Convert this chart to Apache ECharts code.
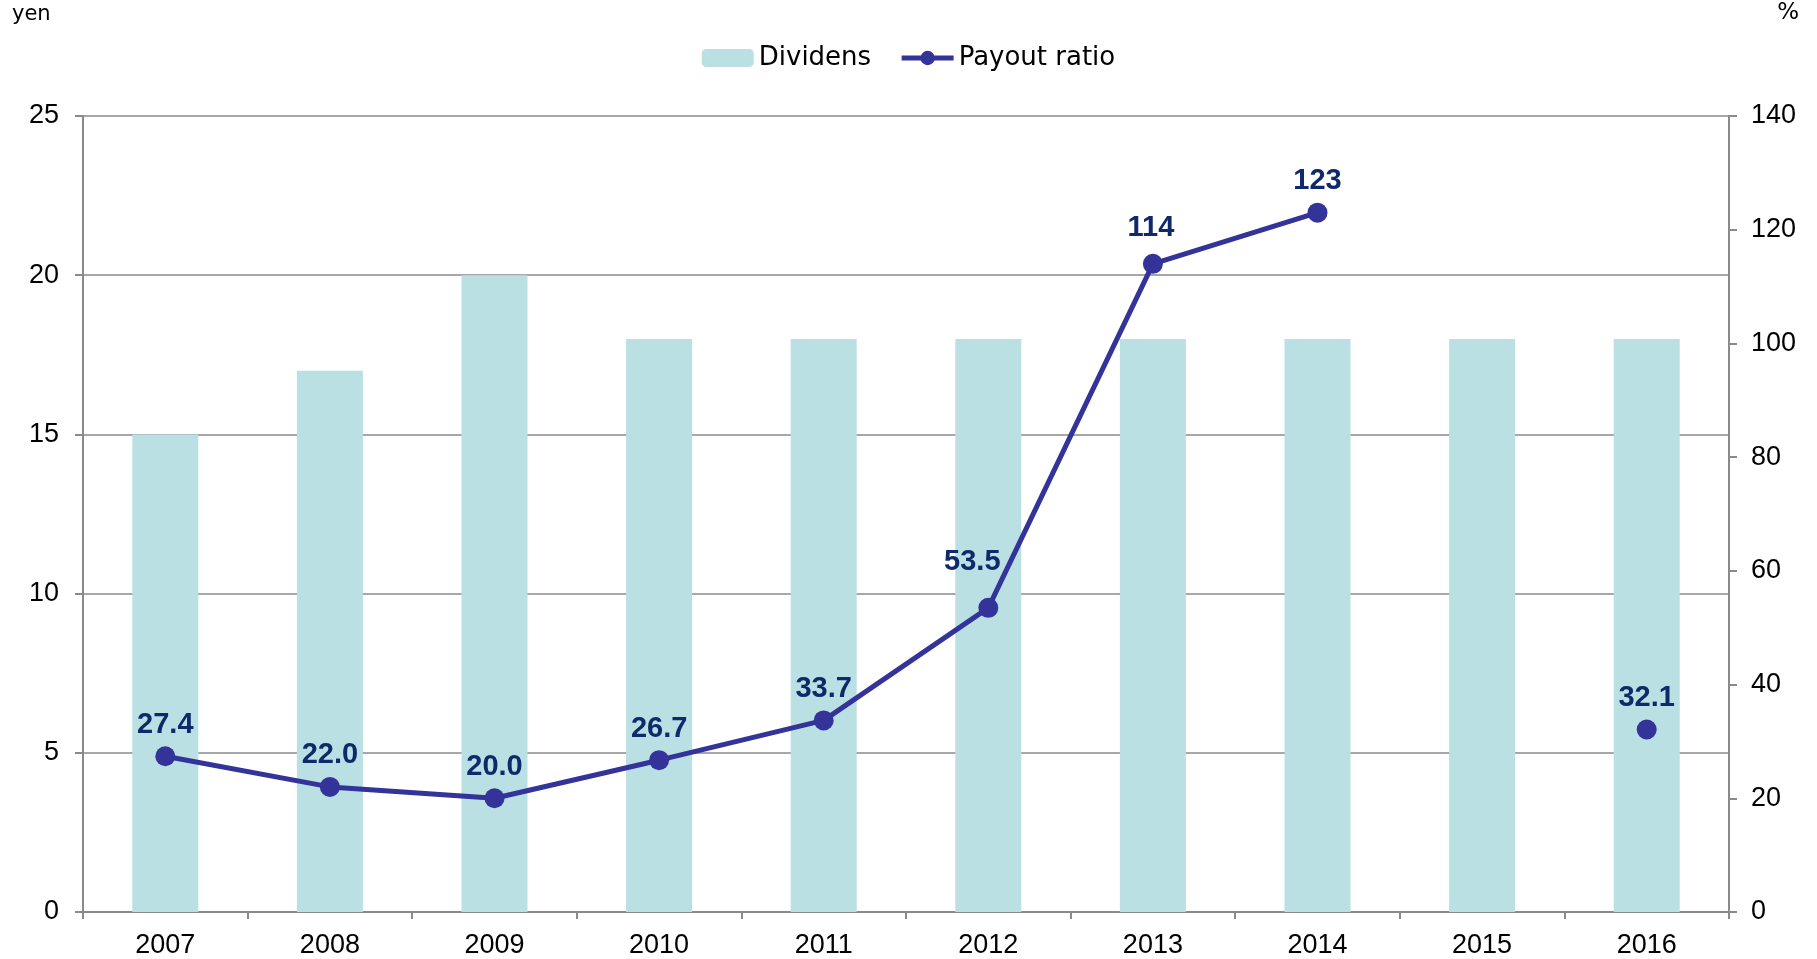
<!DOCTYPE html>
<html>
<head>
<meta charset="utf-8">
<script src="https://cdn.jsdelivr.net/npm/echarts@6/dist/echarts.min.js"></script>
<style>
  html, body { margin: 0; padding: 0; background: #fff; }
  #chart { width: 1817px; height: 959px; }
</style>
</head>
<body>
<div id="chart"></div>
<script>
  // data
  var years = ['2007', '2008', '2009', '2010', '2011', '2012', '2013', '2014', '2015', '2016'];
  var dividends = [15, 17, 20, 18, 18, 18, 18, 18, 18, 18];
  var payoutRatio = [27.4, 22.0, 20.0, 26.7, 33.7, 53.5, 114, 123, null, 32.1];
  var payoutLabels = ['27.4', '22.0', '20.0', '26.7', '33.7', '53.5', '114', '123', '', '32.1'];

  var axisGray = '#8a8a8a';
  var myChart = echarts.init(document.getElementById('chart'));

  // the 2012 label sits a bit up and to the left of its point
  var lineData = payoutRatio.map(function (v, i) {
    if (i === 5) return { value: v, label: { offset: [-16, -14] } };
    if (i === 6) return { value: v, label: { offset: [-2, -4] } };
    return v;
  });

  myChart.setOption({
    animation: false,
    textStyle: { fontFamily: 'Liberation Sans, Arial, sans-serif' },
    graphic: [
      { type: 'text', left: 12, top: 4, style: { text: 'yen', fontSize: 21, fill: '#000', fontFamily: 'DejaVu Sans' } },
      { type: 'text', right: 18, top: 2, style: { text: '%', fontSize: 23, fill: '#000', fontFamily: 'DejaVu Sans' } }
    ],
    legend: {
      top: 40,
      left: 'center',
      itemWidth: 52,
      itemHeight: 18,
      itemGap: 28,
      textStyle: { fontSize: 26, color: '#000', fontFamily: 'DejaVu Sans' },
      data: [
        { name: 'Dividens' },
        { name: 'Payout ratio', lineStyle: { width: 5 } }
      ]
    },
    grid: { left: 83, right: 88, top: 116, bottom: 47 },
    xAxis: {
      type: 'category',
      data: years,
      axisLine: { lineStyle: { color: axisGray, width: 2 } },
      axisTick: { show: true, length: 7, lineStyle: { color: axisGray, width: 2 } },
      axisLabel: { color: '#000', fontSize: 27, margin: 20 }
    },
    yAxis: [{
      type: 'value',
      min: 0, max: 25, interval: 5,
      axisLine: { show: true, lineStyle: { color: axisGray, width: 2 } },
      axisTick: { show: true, length: 8, lineStyle: { color: axisGray, width: 2 } },
      axisLabel: { color: '#000', fontSize: 27, margin: 24 },
      splitLine: { lineStyle: { color: axisGray, width: 1.5 } }
    }, {
      type: 'value',
      min: 0, max: 140, interval: 20,
      axisLine: { show: true, lineStyle: { color: axisGray, width: 2 } },
      axisTick: { show: true, length: 8, lineStyle: { color: axisGray, width: 2 } },
      axisLabel: { color: '#000', fontSize: 27, margin: 22 },
      splitLine: { show: false }
    }],
    series: [{
      name: 'Dividens',
      type: 'bar',
      data: dividends,
      barWidth: 66,
      itemStyle: { color: '#bae0e3' }
    }, {
      name: 'Payout ratio',
      type: 'line',
      yAxisIndex: 1,
      data: lineData,
      connectNulls: false,
      symbol: 'circle',
      symbolSize: 20,
      lineStyle: { color: '#333399', width: 5 },
      itemStyle: { color: '#333399' },
      label: {
        show: true,
        position: 'top',
        distance: 7,
        color: '#0f2a6b',
        fontWeight: 'bold',
        fontSize: 29,
        formatter: function (p) { return payoutLabels[p.dataIndex]; }
      },
      z: 5
    }]
  });
</script>
</body>
</html>
